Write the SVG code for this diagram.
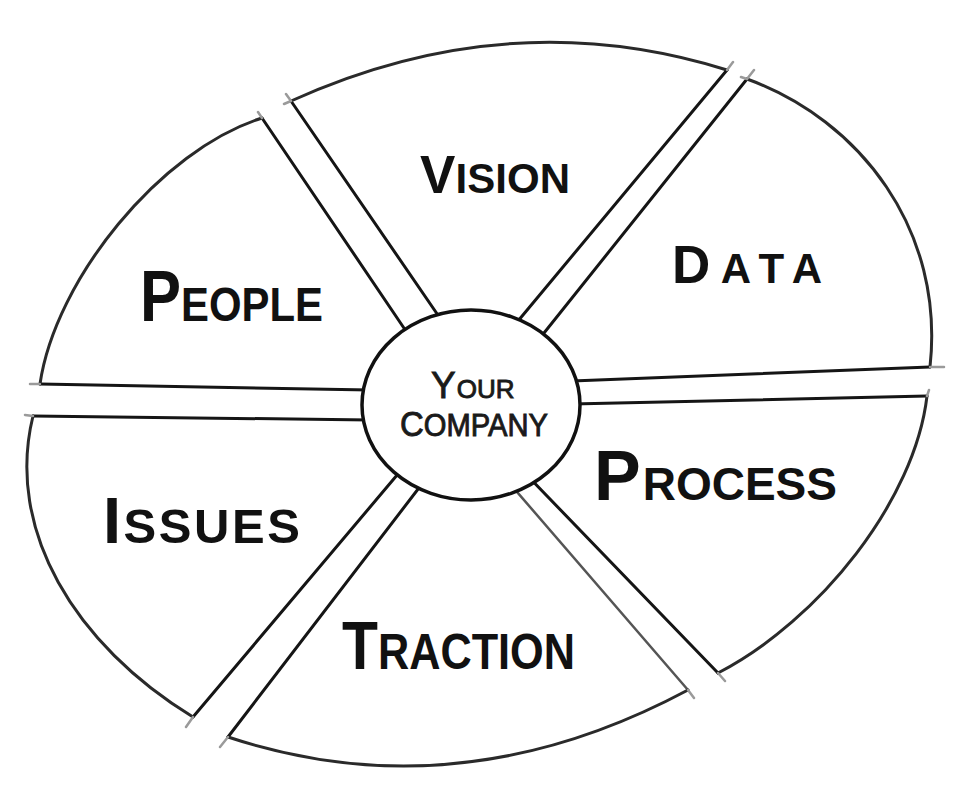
<svg xmlns="http://www.w3.org/2000/svg" width="974" height="802" viewBox="0 0 974 802">
<style>
.edge{fill:none;stroke:#151515;stroke-width:3;stroke-linecap:round;stroke-linejoin:round}
.arc{fill:none;stroke:#2a2a2a;stroke-width:3;stroke-linecap:round}
.soft{fill:none;stroke:#555;stroke-width:2.5;stroke-linecap:round}
.tick{fill:none;stroke:#9a9a9a;stroke-width:2.5;stroke-linecap:round}
.lbl{font-family:"Liberation Sans","DejaVu Sans",Arial,sans-serif;font-weight:700;fill:#111}
.mid{font-family:"Liberation Sans","DejaVu Sans",Arial,sans-serif;font-weight:400;fill:#1a1a1a;stroke:#1a1a1a;stroke-width:0.9}
</style>
<rect width="974" height="802" fill="#fff"/>

<g id="connectors"/>

<g id="vision">
  <path class="edge" d="M442,321 L291,101"/>
  <path class="arc" d="M291,101 Q509,2 727,70"/>
  <path class="edge" d="M727,70 L513,327"/>
  <path class="tick" d="M291,101 L286,94 M291,101 L284,104 M727,70 L733,62"/>
  <text class="lbl" x="420" y="193" textLength="150" lengthAdjust="spacing"><tspan font-size="53">V</tspan><tspan font-size="42">ISION</tspan></text>
</g>

<g id="data">
  <path class="edge" d="M540,338 L747,79"/>
  <path class="arc" d="M747,79 C860,120 945,230 930,367"/>
  <path class="edge" d="M930,367 L572,381"/>
  <path class="tick" d="M747,79 L754,70 M747,79 L741,77 M930,367 L944,367"/>
  <text class="lbl" x="672" y="283" textLength="150" lengthAdjust="spacing"><tspan font-size="53">D</tspan><tspan font-size="42">ATA</tspan></text>
</g>

<g id="process">
  <path class="edge" d="M572,404 L927,396"/>
  <path class="arc" d="M927,396 C915,500 820,620 718,673"/>
  <path class="edge" d="M718,673 L520,468"/>
  <path class="tick" d="M927,396 L929,390 M718,673 L725,681"/>
  <text class="lbl" x="594" y="500"><tspan font-size="70">P</tspan><tspan font-size="46" dx="2">ROCESS</tspan></text>
</g>

<g id="traction">
  <path class="soft" d="M505,478 L688,690"/>
  <path class="arc" d="M688,690 Q458,813 228,737"/>
  <path class="edge" d="M228,737 L425,480"/>
  <path class="tick" d="M688,690 L694,698 M228,737 L220,747"/>
  <text class="lbl" x="342" y="669" textLength="233" lengthAdjust="spacingAndGlyphs"><tspan font-size="68">T</tspan><tspan font-size="50">RACTION</tspan></text>
</g>

<g id="issues">
  <path class="edge" d="M403,468 L193,717"/>
  <path class="arc" d="M193,717 C75,645 5,530 33,416"/>
  <path class="edge" d="M33,416 L370,420"/>
  <path class="tick" d="M193,717 L186,727 M33,416 L25,415"/>
  <text class="lbl" x="103" y="543" textLength="197" lengthAdjust="spacing"><tspan font-size="65">I</tspan><tspan font-size="49">SSUES</tspan></text>
</g>

<g id="people">
  <path class="edge" d="M410,337 L262,118"/>
  <path class="arc" d="M262,118 C160,150 55,280 40,384" stroke="#505050"/>
  <path class="edge" d="M40,384 L370,390"/>
  <path class="tick" d="M262,118 L258,112 M40,384 L30,384"/>
  <text class="lbl" x="140" y="321" textLength="183" lengthAdjust="spacingAndGlyphs"><tspan font-size="72">P</tspan><tspan font-size="49">EOPLE</tspan></text>
</g>

<g id="center">
  <ellipse cx="471" cy="405" rx="109" ry="95" fill="#fff" stroke="#111" stroke-width="3.5"/>
  <text class="mid" x="431" y="398"><tspan font-size="37">Y</tspan><tspan font-size="26" dx="1">OUR</tspan></text>
  <text class="mid" x="400" y="436" textLength="148" lengthAdjust="spacingAndGlyphs"><tspan font-size="35">C</tspan><tspan font-size="31">OMPANY</tspan></text>
</g>
</svg>
